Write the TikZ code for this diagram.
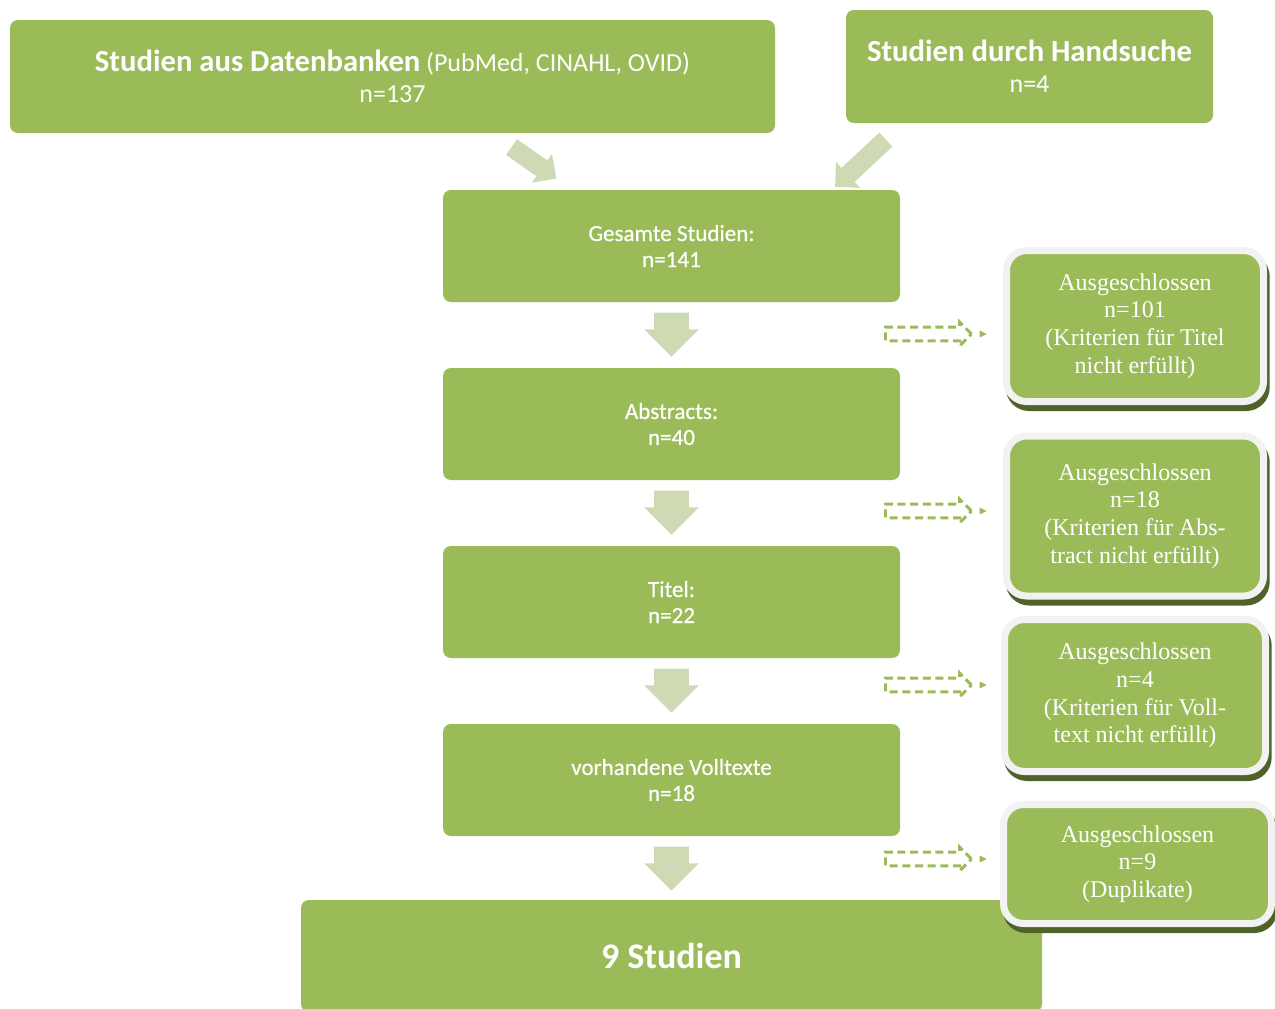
\documentclass[tikz,border=0pt]{standalone}
\usepackage{fontspec}
\setmainfont{Liberation Serif}
\newfontfamily\calibrifont{Carlito}
\newfontfamily\calibrisemi[FakeBold=0.5]{Carlito}
\usetikzlibrary{shapes.arrows,shadows,calc}
\definecolor{boxgreen}{RGB}{155,187,89}
\definecolor{bordergrey}{RGB}{242,242,242}
\definecolor{shadowgreen}{RGB}{79,98,40}
\definecolor{lightgreen}{RGB}{205,218,180}
\begin{document}
\begin{tikzpicture}[x=0.75pt,y=-0.75pt,
  mainbox/.style={fill=boxgreen, rounded corners=6pt, text=white, align=center,
    font=\calibrisemi\fontsize{17.3}{19.5}\selectfont, inner sep=0pt,
    minimum width=342.75pt, minimum height=84pt},
  topbox/.style={fill=boxgreen, rounded corners=6pt, text=white, align=center,
    font=\calibrifont\fontsize{19.5}{23.25}\selectfont, inner sep=0pt, minimum height=84.75pt},
  exbox/.style={fill=boxgreen, draw=bordergrey, line width=5.25pt, rounded corners=15pt,
    text=white, align=center, font=\fontsize{18}{20.8}\selectfont, inner sep=0pt,
    general shadow={fill=shadowgreen, draw=shadowgreen, line width=5.25pt,
      shadow xshift=2pt, shadow yshift=-4.5pt}},
  downarrow/.style={single arrow, fill=lightgreen, rotate=-90, minimum height=33pt,
    inner xsep=0pt, inner ysep=12.75pt, single arrow head extend=7.5pt, anchor=tail},
  diagarrow/.style={single arrow, fill=lightgreen, inner xsep=0pt, inner ysep=7pt,
    single arrow head extend=6pt},
  dasharrow/.style={single arrow, draw=boxgreen, line width=2.2pt, dash pattern=on 6pt off 3.5pt,
    minimum height=64.5pt, inner xsep=0pt, inner ysep=4.1pt, single arrow head extend=3.75pt},
]
\useasboundingbox (0,0) rectangle (1275,1008);

% top boxes
\node[topbox, minimum width=573.75pt] (db) at (392.5,76.5)
  {{\fontsize{23}{23.25}\selectfont\bfseries Studien aus Datenbanken} (PubMed, CINAHL, OVID)\\ n=137};
\node[topbox, minimum width=275.25pt] (hand) at (1029.5,66.5)
  {{\fontsize{23}{23.25}\selectfont\bfseries Studien durch Handsuche}\\ n=4};

% main column
\node[mainbox] (ges) at (671.5,246) {Gesamte Studien:\\ n=141};
\node[mainbox] (abs) at (671.5,424) {Abstracts:\\ n=40};
\node[mainbox] (tit) at (671.5,602) {Titel:\\ n=22};
\node[mainbox] (voll) at (671.5,780) {vorhandene Volltexte\\ n=18};
\node[mainbox, minimum width=555.75pt, rounded corners=6pt,
  font=\calibrifont\bfseries\fontsize{27}{30}\selectfont] (fin) at (671.5,956) {9 Studien};

% diagonal arrows
\node[diagarrow, rotate=-35, minimum height=41pt] (a1) at (530,160) {};
\node[diagarrow, rotate=-137, minimum height=52pt] (a2) at (864,160) {};

% down arrows
\node[downarrow] (d1) at ($(ges.south)+(0,10)$) {};
\node[downarrow] (d2) at ($(abs.south)+(0,10)$) {};
\node[downarrow] (d3) at ($(tit.south)+(0,10)$) {};
\node[downarrow] (d4) at ($(voll.south)+(0,10)$) {};

% excluded boxes
\node[exbox, minimum width=192.75pt, minimum height=113.25pt] (ex1) at (1135,326)
  {Ausgeschlossen\\ n=101\\ (Kriterien für Titel\\ nicht erfüllt)};
\node[exbox, minimum width=192.75pt, minimum height=120pt] (ex2) at (1135,516)
  {Ausgeschlossen\\ n=18\\ (Kriterien für Abs-\\ tract nicht erfüllt)};
\node[exbox, minimum width=195.75pt, minimum height=114pt] (ex3) at (1135,695.5)
  {Ausgeschlossen\\ n=4\\ (Kriterien für Voll-\\ text nicht erfüllt)};
\node[exbox, minimum width=201pt, minimum height=89.25pt] (ex4) at (1137.5,864)
  {Ausgeschlossen\\ n=9\\ (Duplikate)};

% dashed arrows
\foreach \n/\y in {1/334,2/511,3/685,4/859}{
  \node[dasharrow] (da\n) at (925,\y) {};
  \fill[boxgreen] ($(da\n.tip)+(6,-3.5)$) -- ($(da\n.tip)+(13,0)$) -- ($(da\n.tip)+(6,3.5)$) -- cycle;
}
\end{tikzpicture}
\end{document}
